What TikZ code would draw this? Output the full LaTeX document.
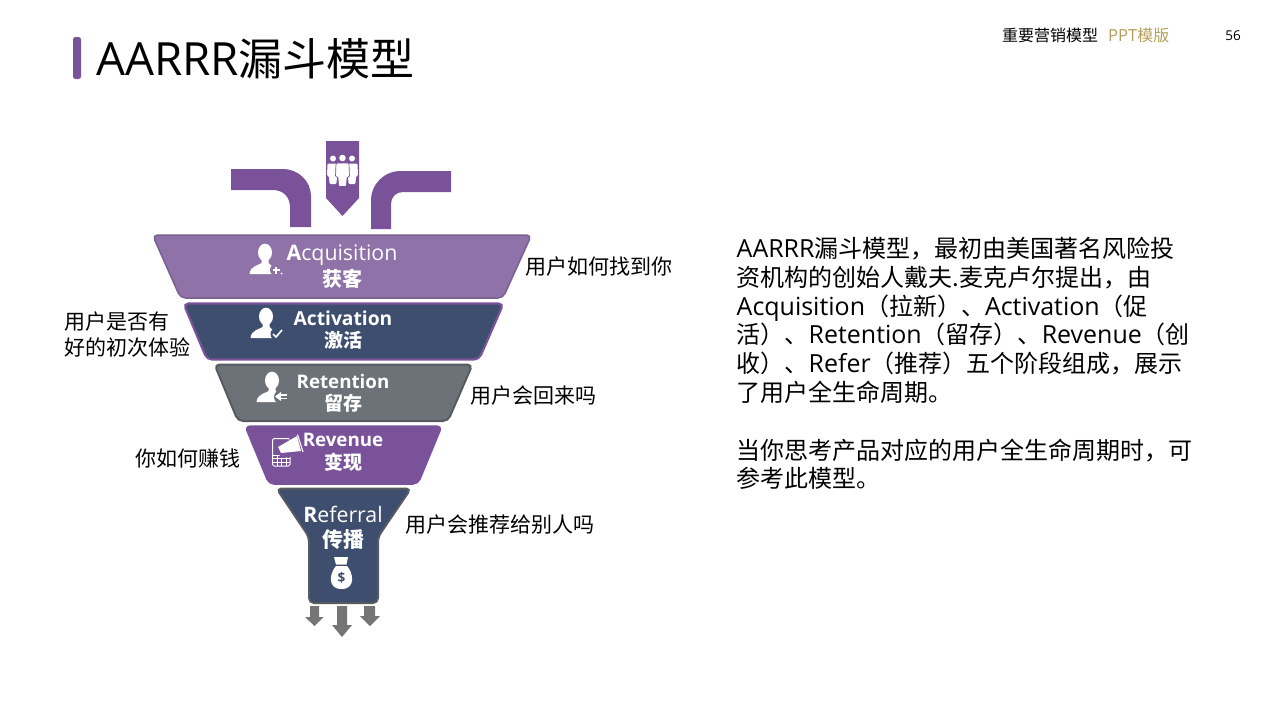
\documentclass[tikz,border=0pt]{standalone}
\usepackage{fontspec}
\usetikzlibrary{arrows.meta}
\setmainfont{Noto Sans CJK SC}
\newfontfamily\latf[Scale=1.04]{Open Sans}
\newcommand{\lat}[1]{{\latf #1}}
\definecolor{pur}{HTML}{7A5299}
\definecolor{lpur}{HTML}{8F72A8}
\definecolor{navy}{HTML}{3E4E6E}
\definecolor{gry}{HTML}{6D7278}
\definecolor{gold}{HTML}{B79E5C}
\definecolor{arrowgry}{HTML}{757575}
\tikzset{
  lbl/.style={anchor=west,inner sep=0pt,font=\fontsize{21}{25}\selectfont,text=black},
  fun/.style={rounded corners=5pt,line width=1.5pt},
  wen/.style={inner sep=0pt,text=white,font=\fontsize{20}{24}\selectfont\latf},
  wcn/.style={inner sep=0pt,text=white,font=\fontsize{20}{24}\selectfont\bfseries},
  dn/.style={fill=arrowgry,draw=none}
}
\newcommand{\personicon}[2]{%
  \begin{scope}[shift={(#1,#2)}]
    \fill[white] (0,8.5) ellipse (7 and 8.8);
    \fill[white] (-3.5,15) -- (-3.5,19) .. controls (-6,21) and (-15,22) .. (-15.5,30) -- (9,30) -- (9,24) -- (3.5,19) -- (3.5,15) -- cycle;
  \end{scope}}
\begin{document}
\begin{tikzpicture}[x=1pt,y=-1pt]
\useasboundingbox (0,0) rectangle (1280,720);
\fill[white] (0,0) rectangle (1280,720);
% title
\fill[pur,rounded corners=2.5pt] (73,37) rectangle (81,79);
\node[anchor=west,inner sep=0pt,font=\fontsize{44}{50}\selectfont] (title) at (96,59) {\lat{AARRR}漏斗模型};
\node[anchor=west,inner sep=0pt,font=\fontsize{16}{20}\selectfont] (hd1) at (1002,35.5) {重要营销模型};
\node[anchor=west,inner sep=0pt,font=\fontsize{16}{20}\selectfont,text=gold] (hd2) at (1108,35.5) {\lat{PPT}模版};
\node[inner sep=0pt,font=\fontsize{13}{16}\selectfont\latf] (pg) at (1233,35.5) {56};
% top arrows
\fill[pur] (231,169) -- (283,169) .. controls (298,169) and (311,181) .. (311,196) -- (311,227) -- (290,227) -- (290,207) .. controls (290,197) and (283,190) .. (273,190) -- (231,190) -- cycle;
\fill[pur] (451,171) -- (401,171) .. controls (384,171) and (371,184) .. (371,201) -- (371,229) -- (391,229) -- (391,204) .. controls (391,197) and (396,192) .. (403,192) -- (451,192) -- cycle;
\fill[pur] (326,141) -- (359,141) -- (359,198) -- (342.5,216) -- (326,198) -- cycle;
% people icon
\foreach \cx in {333,352}{
  \fill[white] (\cx,158.5) circle (3);
  \fill[white,rounded corners=1.2pt] (\cx-5.5,163.5) -- (\cx+5.5,163.5) -- (\cx+6,176) -- (\cx+4,176) -- (\cx+3.5,184) -- (\cx-3.5,184) -- (\cx-4,176) -- (\cx-6,176) -- cycle;
}
\fill[white] (342.5,158) circle (3.3);
\fill[white,draw=pur,line width=0.7pt,rounded corners=1.2pt] (336,163) -- (349,163) -- (349.5,177) -- (347,177) -- (346.5,186.5) -- (338.5,186.5) -- (338,177) -- (335.5,177) -- cycle;
% funnel layers
\draw[fun,fill=lpur,draw=lpur!85!black] (152.5,235) -- (531.5,235) -- (503,298) -- (180.5,298) -- cycle;
\draw[fun,fill=navy,draw=pur,line width=2.2pt] (183.5,303.5) -- (503.5,303.5) -- (479,359.5) -- (207,359.5) -- cycle;
\draw[fun,fill=gry,draw=gry!80!black,line width=2pt] (214.5,364.5) -- (472.5,364.5) -- (448,421) -- (238,421) -- cycle;
\draw[fun,fill=pur,draw=pur] (245,426) -- (442,426) -- (418,484) -- (269,484) -- cycle;
\draw[fun,fill=navy,draw=gry!80!black,line width=2pt] (276.5,488.5) -- (411,488.5) -- (378,537) -- (378,603) -- (309,603) -- (309,537) -- cycle;
% bottom arrows
\fill[dn] (310,606) -- (319,606) -- (319,617) -- (323.5,617) -- (314.5,626) -- (305,617) -- (310,617) -- cycle;
\fill[dn] (337,606) -- (347,606) -- (347,625) -- (352,625) -- (342,637) -- (332,625) -- (337,625) -- cycle;
\fill[dn] (364,606) -- (375,606) -- (375,616) -- (380,616) -- (370,626) -- (360,616) -- (364,616) -- cycle;
% icons
\personicon{265}{244}
\fill[lpur] (276,270) circle (6);
\draw[white,line width=2pt] (272.5,270) -- (279.5,270) (276,266.5) -- (276,273.5);
\fill[white] (281.5,273.5) circle (1);
\personicon{266}{308}
\fill[navy] (277,334) circle (6.5);
\draw[white,line width=1.6pt] (273,334) -- (276,337) -- (282,330);
\personicon{272}{372}
\fill[gry] (281,397) circle (7);
\fill[white] (275,396.5) -- (281,392) -- (281,401) -- cycle;
\draw[white,line width=1.4pt] (279,395) -- (287,395) (279,398.5) -- (287,398.5);
% revenue icon
\draw[white,line width=1pt,rounded corners=1.5pt] (272.5,438.5) rectangle (290,466);
\draw[white,line width=0.8pt] (272.5,455) -- (290,455) (272.5,458.5) -- (290,458.5) (272.5,462) -- (290,462);
\foreach \gx in {277,281.5,286}{\draw[white,line width=0.8pt] (\gx,455) -- (\gx,466);}
\fill[pur] (275,447) -- (304,432) -- (306,455) -- (281,458) -- cycle;
\fill[white] (278,447) -- (297,436) -- (301,451) -- (281,453) -- cycle;
\draw[white,line width=1.1pt] (297.5,434.5) -- (303,452);
% money bag
\fill[white] (334,557) -- (348,557) -- (346.5,564.5) -- (336,564.5) -- cycle;
\fill[white] (336,566) -- (347,566) .. controls (353,572) and (356.5,589) .. (341.5,589) .. controls (326.5,589) and (330,572) .. (336,566) -- cycle;
\node[inner sep=0pt,text=navy,font=\fontsize{13}{15}\selectfont\latf\bfseries] (dollar) at (341.5,578) {\$};
% funnel text
\node[wen,font=\fontsize{20.5}{25}\selectfont\latf] (acq) at (342,255) {\textbf{A}cquisition};
\node[wcn] (acqc) at (342,278.5) {获客};
\node[wen,font=\fontsize{18.5}{23}\selectfont\latf\bfseries] (act) at (343,318) {Activation};
\node[wcn,font=\fontsize{19}{23}\selectfont\bfseries] (actc) at (343,340.5) {激活};
\node[wen,font=\fontsize{18}{22}\selectfont\latf\bfseries] (ret) at (343,381) {Retention};
\node[wcn,font=\fontsize{19}{23}\selectfont\bfseries] (retc) at (343,403) {留存};
\node[wen,font=\fontsize{18}{22}\selectfont\latf\bfseries] (rev) at (343,439.5) {Revenue};
\node[wcn,font=\fontsize{19}{23}\selectfont\bfseries] (revc) at (343,462) {变现};
\node[wen,font=\fontsize{20.5}{25}\selectfont\latf] (rfl) at (343,514) {\textbf{R}eferral};
\node[wcn,font=\fontsize{21}{25}\selectfont\bfseries] (rflc) at (343,540) {传播};
% labels
\node[lbl] (l1) at (525,267) {用户如何找到你};
\node[lbl] (l2a) at (64,322) {用户是否有};
\node[lbl] (l2b) at (64,347) {好的初次体验};
\node[lbl] (l3) at (470,396) {用户会回来吗};
\node[lbl] (l4) at (135,458.5) {你如何赚钱};
\node[lbl] (l5) at (405,525) {用户会推荐给别人吗};
% paragraph
\node[anchor=north west,inner sep=0pt,align=left,font=\fontsize{24}{28.8}\selectfont] (para) at (736.5,237) {%
\lat{AARRR}漏斗模型，最初由美国著名风险投\\
资机构的创始人戴夫.麦克卢尔提出，由\\
\lat{Acquisition}（拉新）、\lat{Activation}（促\\
活）、\lat{Retention}（留存）、\lat{Revenue}（创\\
收）、\lat{Refer}（推荐）五个阶段组成，展示\\
了用户全生命周期。\\[28.8pt]
当你思考产品对应的用户全生命周期时，可\\
参考此模型。};
\end{tikzpicture}
\end{document}
